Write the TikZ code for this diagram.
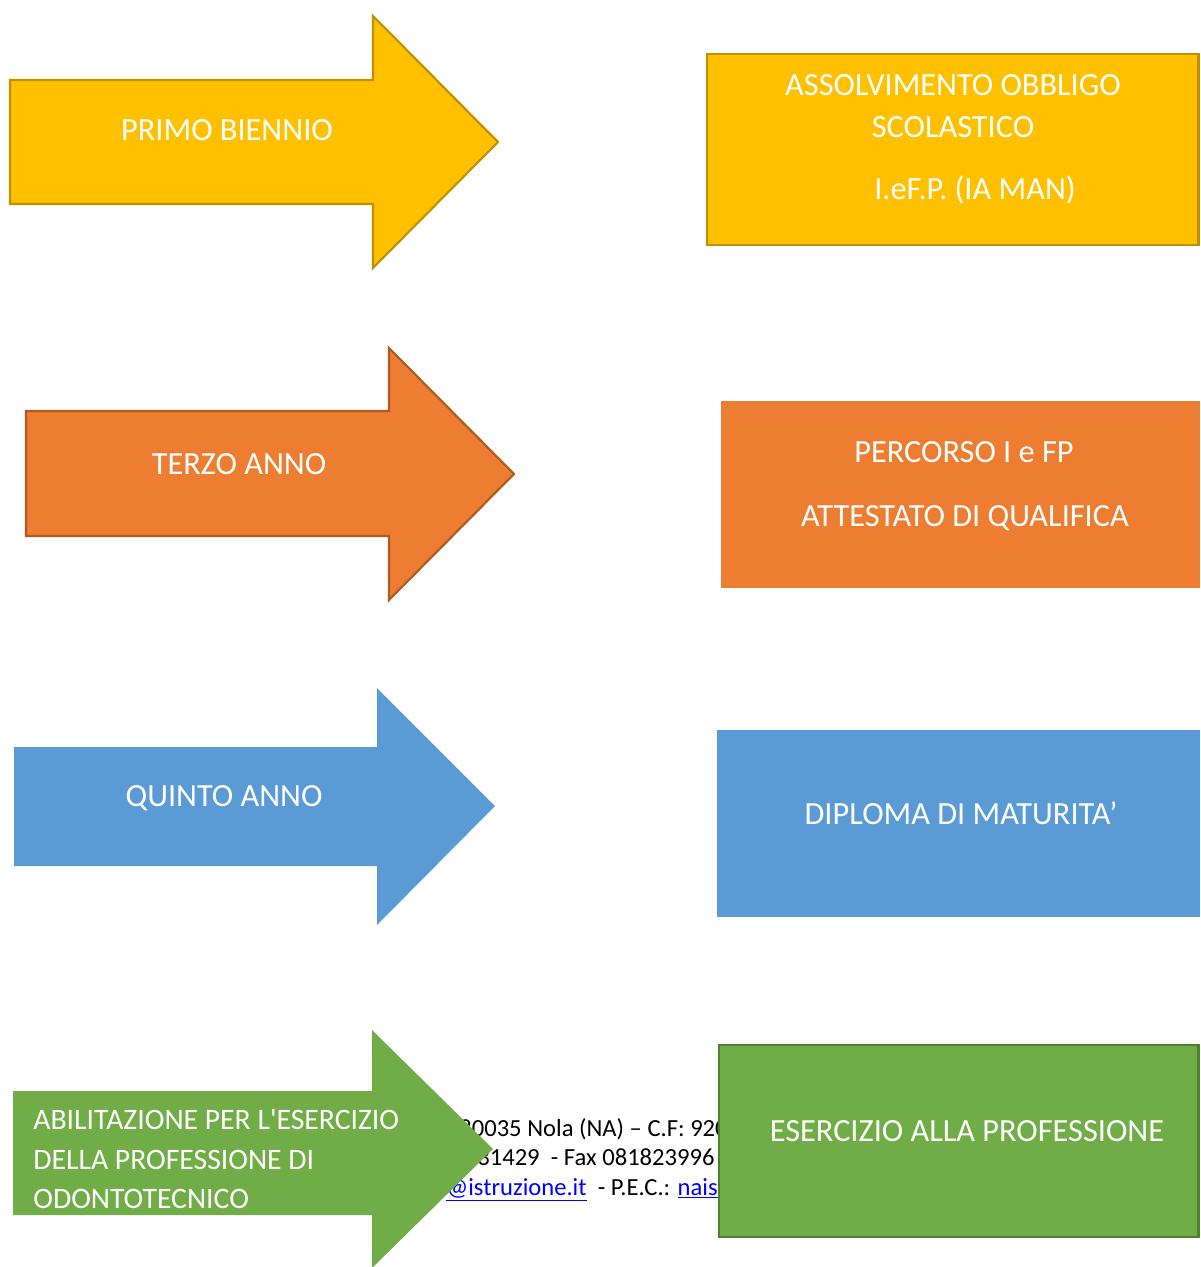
\documentclass[tikz,border=0pt]{standalone}
\usepackage{fontspec}
\setmainfont{Carlito}
\definecolor{giallo}{HTML}{FFC000}
\definecolor{bordogiallo}{HTML}{BF9000}
\definecolor{arancio}{HTML}{ED7D31}
\definecolor{bordoarancio}{HTML}{AE5A21}
\definecolor{azzurro}{HTML}{5B9BD5}
\definecolor{verde}{HTML}{70AD47}
\definecolor{bordoverde}{HTML}{507E32}
\definecolor{link}{HTML}{0000FF}
\begin{document}
\begin{tikzpicture}[x=0.02cm, y=-0.02cm, line join=miter,
    testo/.style={text=white, font=\fontsize{18.4}{22}\selectfont, anchor=base, inner sep=0pt},
    piede/.style={text=black, font=\fontsize{14}{17}\selectfont, anchor=base west, inner sep=0pt}]
    \useasboundingbox (0,0) rectangle (1200,1267);
    % testo dell'intestazione, sotto le forme
    \node[piede] (riga1) at (459,1136) {80035 Nola (NA) – C.F: 920};
    \node[piede] (riga2) at (477,1165) {31429\ \ - Fax 081823996};
    \node[piede] (riga3) at (446,1195) {\textcolor{link}{\underline{@istruzione.it}}\ \ - P.E.C.: \textcolor{link}{\underline{nais}}};
    % primo biennio
    \filldraw[fill=giallo, draw=bordogiallo, line width=1.2pt] (10,80) -- (373,80) -- (373,16) -- (498,142) -- (373,268) -- (373,204) -- (10,204) -- cycle;
    \node[testo] (primo) at (227,141) {PRIMO BIENNIO};
    \filldraw[fill=giallo, draw=bordogiallo, line width=1.2pt] (707,54) rectangle (1198.5,245);
    \node[testo] (obbligo1) at (953,96) {ASSOLVIMENTO OBBLIGO};
    \node[testo] (obbligo2) at (953,138) {SCOLASTICO};
    \node[testo] (obbligo3) at (975,200) {I.eF.P. (IA MAN)};
    % terzo anno
    \filldraw[fill=arancio, draw=bordoarancio, line width=1.2pt] (26,411) -- (389,411) -- (389,348) -- (514,474) -- (389,600) -- (389,536) -- (26,536) -- cycle;
    \node[testo] (terzo) at (239,474) {TERZO ANNO};
    \fill[arancio] (721,401) rectangle (1200,588);
    \node[testo] (percorso) at (964,462) {PERCORSO I e FP};
    \node[testo] (attestato) at (965,526) {ATTESTATO DI QUALIFICA};
    % quinto anno
    \fill[azzurro] (14,747) -- (377,747) -- (377,688) -- (495,806) -- (377,925) -- (377,866) -- (14,866) -- cycle;
    \node[testo] (quinto) at (224,806) {QUINTO ANNO};
    \fill[azzurro] (717,730) rectangle (1200,917);
    \node[testo] (diploma) at (961,824) {DIPLOMA DI MATURITA’};
    % abilitazione
    \fill[verde] (13,1091) -- (372,1091) -- (372,1030) -- (493,1149) -- (372,1268) -- (372,1215) -- (13,1215) -- cycle;
    \node[testo, anchor=base west, font=\fontsize{16.9}{20}\selectfont] (abil1) at (33,1129) {ABILITAZIONE PER L\textquotesingle ESERCIZIO};
    \node[testo, anchor=base west, font=\fontsize{16.9}{20}\selectfont] (abil2) at (33,1169) {DELLA PROFESSIONE DI};
    \node[testo, anchor=base west, font=\fontsize{16.9}{20}\selectfont] (abil3) at (33,1208) {ODONTOTECNICO};
    \filldraw[fill=verde, draw=bordoverde, line width=1.2pt] (719,1045) rectangle (1198.5,1237);
    \node[testo] (esercizio) at (967,1141) {ESERCIZIO ALLA PROFESSIONE};
\end{tikzpicture}
\end{document}
